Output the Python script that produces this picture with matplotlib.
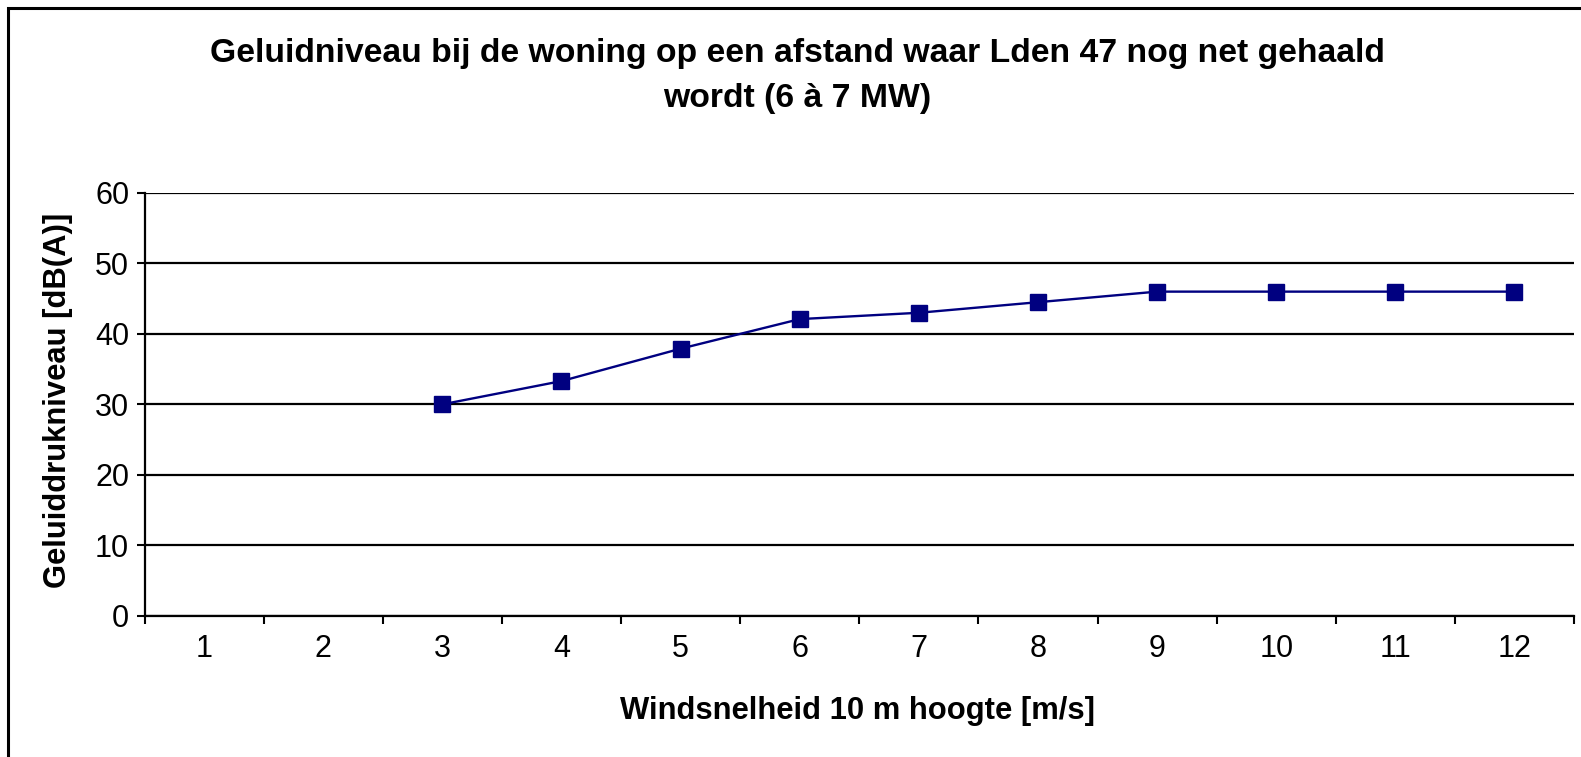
import matplotlib
matplotlib.use("Agg")
import matplotlib.pyplot as plt
from matplotlib.patches import Rectangle
import numpy as np

plt.rcParams['font.family'] = ['Liberation Sans', 'DejaVu Sans']

categories = ['1', '2', '3', '4', '5', '6', '7', '8', '9', '10', '11', '12']
values = [None, None, 30.0, 33.3, 37.9, 42.1, 43.0, 44.5, 46.0, 46.0, 46.0, 46.0]
yticks = [0, 10, 20, 30, 40, 50, 60]
title = "Geluidniveau bij de woning op een afstand waar Lden 47 nog net gehaald\nwordt (6 à 7 MW)"
xlabel = "Windsnelheid 10 m hoogte [m/s]"
ylabel = "Geluiddrukniveau [dB(A)]"

W, H = 1581, 757
fig = plt.figure(figsize=(W / 100, H / 100), dpi=100)
fig.patch.set_facecolor('white')

# outer chart border
fig.patches.append(Rectangle((8 / W, -0.05), 1.1, 1 - 8 / H + 0.05, transform=fig.transFigure,
                             fill=False, edgecolor='black', linewidth=2.2, zorder=0))

left, right = 144.5 / W, 1574 / W
bottom, top = 1 - 615.7 / H, 1 - 193 / H
ax = fig.add_axes([left, bottom, right - left, top - bottom])

x = np.arange(1, len(categories) + 1)
xs = [xi for xi, v in zip(x, values) if v is not None]
vs = [v for v in values if v is not None]
ax.plot(xs, vs, color='#000080', linewidth=1.7, marker='s', markersize=12,
        markerfacecolor='#000080', markeredgecolor='#000080', zorder=3, clip_on=False)

ax.set_xlim(0.5, len(categories) + 0.5)
ax.set_ylim(0, 60)
ax.set_yticks(yticks)
ax.set_yticklabels([str(t) for t in yticks], fontsize=22)
ax.set_xticks(np.arange(0.5, len(categories) + 1, 1))
ax.set_xticklabels([])
ax.set_xticks(x, minor=True)
ax.set_xticklabels(categories, minor=True, fontsize=22)
ax.tick_params(axis='x', which='minor', length=0, pad=13)
ax.tick_params(axis='x', which='major', direction='out', length=6, width=1.5, color='black')
ax.tick_params(axis='y', direction='out', length=6, width=1.5, color='black', pad=5)

ax.yaxis.grid(True, color='black', linewidth=1.6)
ax.set_axisbelow(True)
for s in ['top', 'right']:
    ax.spines[s].set_visible(False)
for s in ['left', 'bottom']:
    ax.spines[s].set_linewidth(1.6)
    ax.spines[s].set_color('black')

fig.text(797 / W, 1 - 76 / H, title, ha='center', va='center', fontsize=24.3,
         fontweight='bold', linespacing=1.55)
fig.text(858 / W, 1 - 711 / H, xlabel, ha='center', va='center', fontsize=22.3, fontweight='bold')
fig.text(58.5 / W, 1 - 400 / H, ylabel, ha='center', va='center', fontsize=22.3,
         fontweight='bold', rotation=90)

fig.savefig('out.png', dpi=100, facecolor='white')
